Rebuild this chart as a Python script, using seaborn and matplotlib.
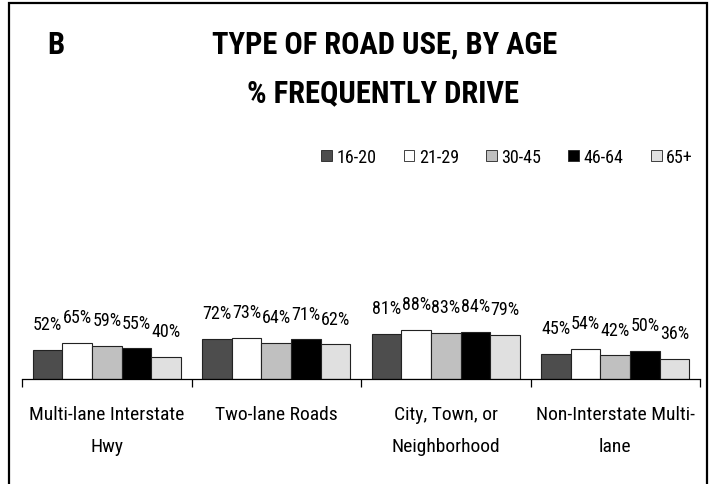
import numpy as np
import pandas as pd
import matplotlib
matplotlib.use('Agg')
import matplotlib.pyplot as plt
import seaborn as sns
from matplotlib.patches import Rectangle

sns.set_theme(style='white')
plt.rcParams['font.family'] = ['Roboto Condensed', 'DejaVu Sans']
plt.rcParams['text.color'] = 'black'
plt.rcParams['xtick.color'] = 'black'

# data
categories = ['Multi-lane Interstate\nHwy', 'Two-lane Roads',
              'City, Town, or\nNeighborhood', 'Non-Interstate Multi-\nlane']
ages = ['16-20', '21-29', '30-45', '46-64', '65+']
pct_16_20 = [52, 72, 81, 45]
pct_21_29 = [65, 73, 88, 54]
pct_30_45 = [59, 64, 83, 42]
pct_46_64 = [55, 71, 84, 50]
pct_65 = [40, 62, 79, 36]
colors = ['#4d4d4d', '#ffffff', '#c0c0c0', '#000000', '#e0e0e0']

rows = []
for age, vals in zip(ages, [pct_16_20, pct_21_29, pct_30_45, pct_46_64, pct_65]):
    for cat, v in zip(categories, vals):
        rows.append({'road': cat, 'age': age, 'pct': v})
df = pd.DataFrame(rows)

fig = plt.figure(figsize=(7.13, 4.85), dpi=100)
ax = fig.add_axes([22 / 713, 105 / 485, 678 / 713, 56 / 485])

sns.barplot(data=df, x='road', y='pct', hue='age', order=categories,
            hue_order=ages, palette=colors, width=0.873, gap=0,
            edgecolor='#222222', linewidth=0.8, ax=ax, legend=False)

ax.set_ylim(0, 100)
ax.set_xlim(-0.5, len(categories) - 0.5)
ax.set_xlabel('')
ax.set_ylabel('')
ax.set_yticks([])
for s in ['top', 'left', 'right']:
    ax.spines[s].set_visible(False)
ax.spines['bottom'].set_color('black')
ax.spines['bottom'].set_linewidth(0.9)

ax.set_xticks(np.arange(-0.5, len(categories)), labels=[''] * (len(categories) + 1))
ax.set_xticks(np.arange(len(categories)), labels=categories, minor=True)
ax.tick_params(axis='x', which='major', direction='out', length=6, width=0.9,
               color='black', bottom=True)
ax.tick_params(axis='x', which='minor', length=0, pad=18.5, labelsize=14)
for t in ax.get_xticklabels(minor=True):
    t.set_linespacing(2.05)
    t.set_va('top')
    t.set_ha('center')

for cont in ax.containers:
    for bar in cont:
        h = bar.get_height()
        ax.annotate(f'{h:.0f}%', (bar.get_x() + bar.get_width() / 2, h),
                    xytext=(0, 12), textcoords='offset points',
                    ha='center', va='bottom', fontsize=13,
                    annotation_clip=False)

handles = [Rectangle((0, 0), 1, 1, facecolor=c, edgecolor='#222222', linewidth=0.6)
           for c in colors]
fig.legend(handles, ages, loc='center', bbox_to_anchor=(507 / 713, 1 - 158 / 485),
           ncol=5, frameon=False, fontsize=13, handlelength=0.6, handleheight=0.6,
           handletextpad=0.25, columnspacing=1.5)

fig.text(56 / 713, 1 - 45 / 485, 'B', fontsize=22, fontweight='bold',
         ha='center', va='center')
fig.text(385 / 713, 1 - 45 / 485, 'TYPE OF ROAD USE, BY AGE', fontsize=22,
         fontweight='bold', ha='center', va='center')
fig.text(383 / 713, 1 - 93 / 485, '% FREQUENTLY DRIVE', fontsize=22,
         fontweight='bold', ha='center', va='center')

fig.patches.append(Rectangle((9 / 713, -0.05), 698 / 713, 1.05 - 4 / 485,
                             transform=fig.transFigure, fill=False,
                             edgecolor='black', linewidth=1.6))

fig.savefig('out.png', dpi=100)
